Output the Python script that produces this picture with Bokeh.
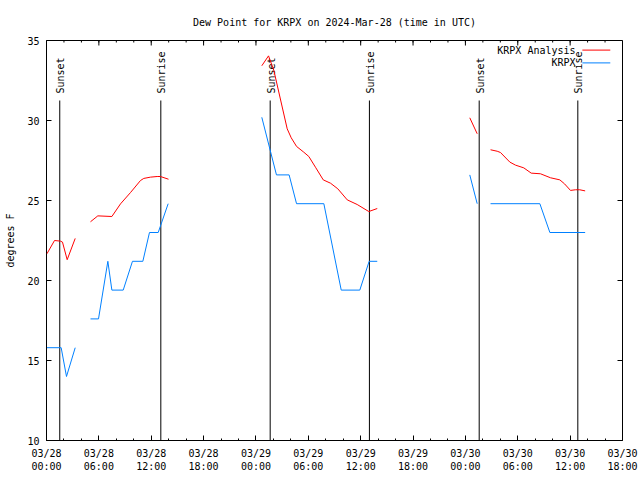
import math
from bokeh.plotting import figure
from bokeh.models import Range1d, LinearAxis, FixedTicker
from bokeh.embed import file_html
from bokeh.resources import INLINE
from bokeh.core.properties import value

nan = float("nan")

TITLE = "Dew Point for KRPX on 2024-Mar-28 (time in UTC)"
Y_LABEL = "degrees F"

# time axis: hours since 2024-03-28 00:00 UTC
analysis_hours = [0.05, 0.92, 1.6, 1.83, 2.37, 3.29, nan,
                  5.04, 5.88, 7.49, 8.48, 9.63, 10.77, 11.15, 11.92, 12.68, 13.06, 13.98, nan,
                  24.67, 25.44, 26.05, 27.58, 28.04, 28.65, 29.48, 30.06, 30.82, 31.71, 32.55,
                  33.38, 34.46, 35.6, 36.93, 37.9, nan,
                  48.5, 49.35, nan,
                  50.88, 51.64, 52.02, 53.09, 53.74, 54.69, 55.54, 56.6, 57.75, 58.82, 59.36,
                  60.04, 60.62, 61.1, 61.72]
analysis_dewpt = [21.67, 22.5, 22.46, 22.4, 21.3, 22.63, nan,
                  23.67, 24.04, 24.0, 24.79, 25.5, 26.25, 26.38, 26.46, 26.5, 26.5, 26.33, nan,
                  33.42, 34.04, 33.13, 29.48, 28.92, 28.38, 28.02, 27.75, 27.08, 26.29, 26.08,
                  25.73, 25.04, 24.75, 24.31, 24.5, nan,
                  30.17, 29.17, nan,
                  28.17, 28.08, 28.0, 27.4, 27.21, 27.04, 26.71, 26.67, 26.42, 26.29, 26.04,
                  25.63, 25.67, 25.67, 25.6]

obs_hours = [0.05, 1.68, 2.29, 3.29, nan,
             5.04, 5.96, 7.03, 7.49, 8.79, 9.85, 11.04, 11.8, 12.8, 13.94, nan,
             24.67, 26.35, 27.8, 28.65, 31.78, 33.77, 35.9, 36.97, 37.9, nan,
             48.5, 49.35, nan,
             50.88, 56.53, 57.68, 61.72]
obs_dewpt = [15.8, 15.8, 14.0, 15.8, nan,
             17.6, 17.6, 21.2, 19.4, 19.4, 21.2, 21.2, 23.0, 23.0, 24.8, nan,
             30.2, 26.6, 26.6, 24.8, 24.8, 19.4, 19.4, 21.2, 21.2, nan,
             26.6, 24.8, nan,
             24.8, 24.8, 23.0, 23.0]

sunset_hours = [1.52, 25.63, 49.58]
sunrise_hours = [13.1, 37.0, 60.88]

x_tick_hours = [0, 6, 12, 18, 24, 30, 36, 42, 48, 54, 60, 66]
x_tick_labels = ["03/28\n00:00", "03/28\n06:00", "03/28\n12:00", "03/28\n18:00",
                 "03/29\n00:00", "03/29\n06:00", "03/29\n12:00", "03/29\n18:00",
                 "03/30\n00:00", "03/30\n06:00", "03/30\n12:00", "03/30\n18:00"]
x_minor_hours = list(range(0, 67, 2))
y_ticks = [10, 15, 20, 25, 30, 35]

series_names = ["KRPX Analysis", "KRPX"]
series_colors = ["#ff0000", "#0080ff"]

# ---- style / layout
FONT = "DejaVu Sans Mono"
FS = "10px"
EVENT_TOP = 31.25          # where the sunrise/sunset lines stop
LEGEND_TEXT_X = 60.62
LEGEND_LINE_X = (61.4, 64.6)
LEGEND_Y = [34.4, 33.6]
X0, X1, Y0, Y1 = 0, 66, 10, 35

p = figure(frame_width=576, frame_height=400,
           x_range=Range1d(X0, X1), y_range=Range1d(Y0, Y1),
           x_axis_type=None, y_axis_type=None,
           output_backend="svg", toolbar_location=None,
           min_border_left=46, min_border_right=18,
           min_border_top=40, min_border_bottom=40)
p.background_fill_color = "white"
p.border_fill_color = "white"
p.outline_line_color = "black"
p.outline_line_width = 1
p.outline_line_alpha = 1
p.grid.visible = False

p.title.text = TITLE
p.title.text_font = FONT
p.title.text_font_size = FS
p.title.text_font_style = "normal"
p.title.align = "center"
p.title.text_color = "black"
p.title.standoff = 26


def style_axis(ax):
    ax.axis_line_color = None
    ax.major_tick_in = 5
    ax.major_tick_out = 0
    ax.minor_tick_in = 2
    ax.minor_tick_out = 0
    ax.major_tick_line_color = "black"
    ax.minor_tick_line_color = "black"
    ax.major_label_text_font = FONT
    ax.major_label_text_color = "black"
    ax.major_label_text_font_size = FS
    ax.major_label_standoff = 7


xticker = FixedTicker(ticks=x_tick_hours, minor_ticks=x_minor_hours)
yticker = FixedTicker(ticks=y_ticks, minor_ticks=[])

xb = LinearAxis(ticker=xticker)
style_axis(xb)
xb.major_label_overrides = dict(zip(x_tick_hours, x_tick_labels))
p.add_layout(xb, "below")

yl = LinearAxis(ticker=yticker, axis_label=Y_LABEL)
style_axis(yl)
yl.axis_label_text_font = FONT
yl.axis_label_text_font_size = FS
yl.axis_label_text_font_style = "normal"
yl.axis_label_text_color = "black"
yl.axis_label_standoff = 8
p.add_layout(yl, "left")

# mirrored tick marks on the top and right borders (gnuplot style)
p.ray(x=x_tick_hours, y=[Y1] * len(x_tick_hours), length=5, length_units="screen",
      angle=-math.pi / 2, line_color="black", line_width=1)
p.ray(x=x_minor_hours, y=[Y1] * len(x_minor_hours), length=2, length_units="screen",
      angle=-math.pi / 2, line_color="black", line_width=1)
p.ray(x=[X1] * len(y_ticks), y=y_ticks, length=5, length_units="screen",
      angle=math.pi, line_color="black", line_width=1)

# sunrise / sunset markers
ev_x = sunset_hours + sunrise_hours
ev_names = ["Sunset"] * len(sunset_hours) + ["Sunrise"] * len(sunrise_hours)
p.segment(x0=ev_x, y0=[Y0] * len(ev_x), x1=ev_x, y1=[EVENT_TOP] * len(ev_x),
          line_color="black", line_width=1)
p.text(x=ev_x, y=[EVENT_TOP] * len(ev_x), text=ev_names, angle=math.pi / 2,
       text_align="left", text_baseline="middle", y_offset=-7, x_offset=1,
       text_font=value(FONT), text_font_size=FS, text_color="black")

# data
p.line(analysis_hours, analysis_dewpt, line_color=series_colors[0], line_width=1)
p.line(obs_hours, obs_dewpt, line_color=series_colors[1], line_width=1)

# legend (gnuplot style: text then sample line)
p.text(x=[LEGEND_TEXT_X] * 2, y=LEGEND_Y, text=series_names, text_align="right",
       text_baseline="middle", text_font=value(FONT), text_font_size=FS, text_color="black")
for yy, c in zip(LEGEND_Y, series_colors):
    p.line(list(LEGEND_LINE_X), [yy, yy], line_color=c, line_width=1)

open("out.html", "w").write(file_html(p, INLINE))
